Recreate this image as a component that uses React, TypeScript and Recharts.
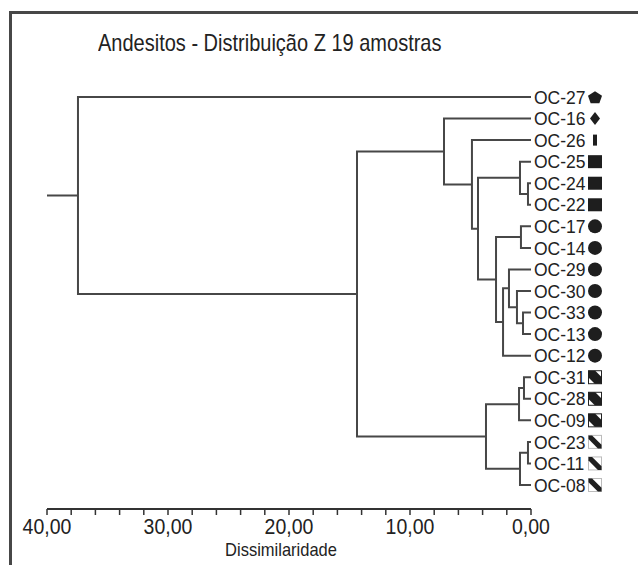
import React from "react";
import { ComposedChart, Line, XAxis, YAxis, Label } from "recharts";

// sample labels, top to bottom in dendrogram order
const leaves = [
  "OC-27", "OC-16", "OC-26", "OC-25", "OC-24", "OC-22", "OC-17", "OC-14", "OC-29", "OC-30",
  "OC-33", "OC-13", "OC-12", "OC-31", "OC-28", "OC-09", "OC-23", "OC-11", "OC-08",
];

// symbol drawn after each sample name
const symbols = [
  "pentagon", "diamond", "bar", "square", "square", "square",
  "circle", "circle", "circle", "circle", "circle", "circle", "circle",
  "hatch", "hatch", "hatch", "hatchLight", "hatchLight", "hatchLight",
];

// linkage: [childA, childB, dissimilarity]; ids < 19 are leaves, 19 + k is merge k
const merges: [number, number, number][] = [
  [4, 5, 0.25],
  [3, 19, 0.91],
  [6, 7, 0.83],
  [10, 11, 0.66],
  [9, 22, 1.16],
  [8, 23, 1.82],
  [24, 12, 2.31],
  [21, 25, 2.89],
  [20, 26, 4.38],
  [2, 27, 4.88],
  [1, 28, 7.19],
  [13, 14, 0.58],
  [30, 15, 0.99],
  [16, 17, 0.25],
  [32, 18, 0.91],
  [31, 33, 3.72],
  [29, 34, 14.38],
  [0, 35, 37.44],
];

const rootStem = 40;
const scaleTicks = [0, 2, 4, 6, 8, 10, 12, 14, 16, 18, 20, 22, 24, 26, 28, 30, 32, 34, 36, 38, 40];

const FONT = "'Liberation Sans', Arial, Helvetica, sans-serif";
const INK = "#474747";
const STRETCH = 1.15; // lettering is a little taller than the stock face

type Pt = { x: number; y: number };

function buildBranches() {
  const pos: Pt[] = leaves.map((_, i) => ({ x: 0, y: i }));
  const paths: Pt[][] = [];
  merges.forEach(([a, b, h]) => {
    const pa = pos[a];
    const pb = pos[b];
    paths.push([
      { x: pa.x, y: pa.y },
      { x: h, y: pa.y },
      { x: h, y: pb.y },
      { x: pb.x, y: pb.y },
    ]);
    pos.push({ x: h, y: (pa.y + pb.y) / 2 });
  });
  const root = pos[pos.length - 1];
  paths.push([
    { x: root.x, y: root.y },
    { x: rootStem, y: root.y },
  ]);
  return paths;
}

const branches = buildBranches();

function Marker({ kind, cx, cy }: { kind: string; cx: number; cy: number }) {
  const fill = "#1e1e1e";
  if (kind === "circle") return <circle cx={cx} cy={cy} r={7} fill={fill} />;
  if (kind === "square") return <rect x={cx - 7} y={cy - 6.5} width={14} height={13} fill={fill} />;
  if (kind === "bar") return <rect x={cx - 2} y={cy - 5.5} width={4} height={11} fill={fill} />;
  if (kind === "diamond")
    return <polygon points={`${cx},${cy - 6.5} ${cx + 5},${cy} ${cx},${cy + 6.5} ${cx - 5},${cy}`} fill={fill} />;
  if (kind === "pentagon") {
    const pts = [0, 1, 2, 3, 4]
      .map((i) => {
        const a = -Math.PI / 2 + (i * 2 * Math.PI) / 5;
        return `${cx + 7.4 * Math.cos(a)},${cy + 0.8 + 6.6 * Math.sin(a)}`;
      })
      .join(" ");
    return <polygon points={pts} fill={fill} />;
  }
  // diagonal-band squares
  const light = kind === "hatchLight";
  const w = 13;
  const x0 = cx - w / 2;
  const y0 = cy - w / 2;
  const t = light ? 0.28 : 0.52;
  const band = [
    [0, 0],
    [t * w, 0],
    [w, (1 - t) * w],
    [w, w],
    [(1 - t) * w, w],
    [0, t * w],
  ]
    .map(([px, py]) => `${x0 + px},${y0 + py}`)
    .join(" ");
  return (
    <g>
      <rect x={x0} y={y0} width={w} height={w} fill="#fff" stroke={light ? "#bbb" : "#222"} strokeWidth={1} />
      <polygon points={band} fill={fill} />
    </g>
  );
}

function LeafTick(props: any) {
  const { x, y, payload } = props;
  const i = payload.value as number;
  return (
    <g>
      <g transform={`translate(${x},${y}) scale(1,1.05)`}>
        <text x={0} y={0} dy="0.36em" textAnchor="start" fontFamily={FONT} fontSize={17.5} fill="#222">
          {leaves[i]}
        </text>
      </g>
      <Marker kind={symbols[i]} cx={x + 61} cy={y} />
    </g>
  );
}

const fmt = (v: number) => (v % 10 === 0 ? v.toFixed(2).replace(".", ",") : "");

function ScaleTick(props: any) {
  const { x, y, payload } = props;
  const s = fmt(payload.value);
  if (!s) return null;
  return (
    <g transform={`translate(${x},${y}) scale(1,${STRETCH})`}>
      <text x={0} y={0} dy="0.71em" textAnchor="middle" fontFamily={FONT} fontSize={19.5} fill="#222">
        {s}
      </text>
    </g>
  );
}

function AxisTitle(props: any) {
  const { viewBox } = props;
  const cx = viewBox.x + viewBox.width / 2 - 8;
  return (
    <g transform={`translate(${cx},549) scale(1,${STRETCH})`}>
      <text x={0} y={0} dy="0.36em" textAnchor="middle" fontFamily={FONT} fontSize={16.5} fill="#222">
        Dissimilaridade
      </text>
    </g>
  );
}

export default function App() {
  return (
    <div style={{ position: "absolute", left: 0, top: 0, width: 638, height: 565, background: "#fff", overflow: "hidden" }}>
      <div
        style={{
          position: "absolute",
          left: 9,
          top: 11,
          width: 640,
          height: 560,
          borderLeft: `3px solid ${INK}`,
          borderTop: `3px solid ${INK}`,
          boxSizing: "border-box",
        }}
      />
      <div
        style={{
          position: "absolute",
          left: 98,
          top: 31,
          fontFamily: FONT,
          fontSize: 20,
          lineHeight: "24px",
          color: "#222",
          whiteSpace: "nowrap",
          transform: "scaleY(1.2)",
          transformOrigin: "left center",
        }}
      >
        Andesitos - Distribuição Z 19 amostras
      </div>
      <div style={{ position: "absolute", left: 0, top: 0 }}>
        <ComposedChart width={638} height={565} margin={{ top: 97, right: 0, bottom: 0, left: 47 }}>
          <XAxis
            type="number"
            dataKey="x"
            domain={[0, 40]}
            reversed
            ticks={scaleTicks}
            interval={0}
            height={56}
            tickSize={6}
            tickMargin={3}
            axisLine={{ stroke: "#333", strokeWidth: 2 }}
            tickLine={{ stroke: "#333", strokeWidth: 1.5 }}
            tick={<ScaleTick />}
          >
            <Label position="insideBottom" content={<AxisTitle />} />
          </XAxis>
          <YAxis
            type="number"
            dataKey="y"
            orientation="right"
            domain={[0, leaves.length - 1]}
            reversed
            ticks={leaves.map((_, i) => i)}
            interval={0}
            width={107}
            padding={{ top: 0, bottom: 24 }}
            axisLine={false}
            tickLine={false}
            tickSize={0}
            tickMargin={3}
            tick={<LeafTick />}
          />
          {branches.map((seg, k) => (
            <Line
              key={k}
              data={seg}
              dataKey="y"
              type="linear"
              stroke={INK}
              strokeWidth={2}
              strokeLinejoin="miter"
              dot={false}
              activeDot={false}
              isAnimationActive={false}
            />
          ))}
        </ComposedChart>
      </div>
    </div>
  );
}
